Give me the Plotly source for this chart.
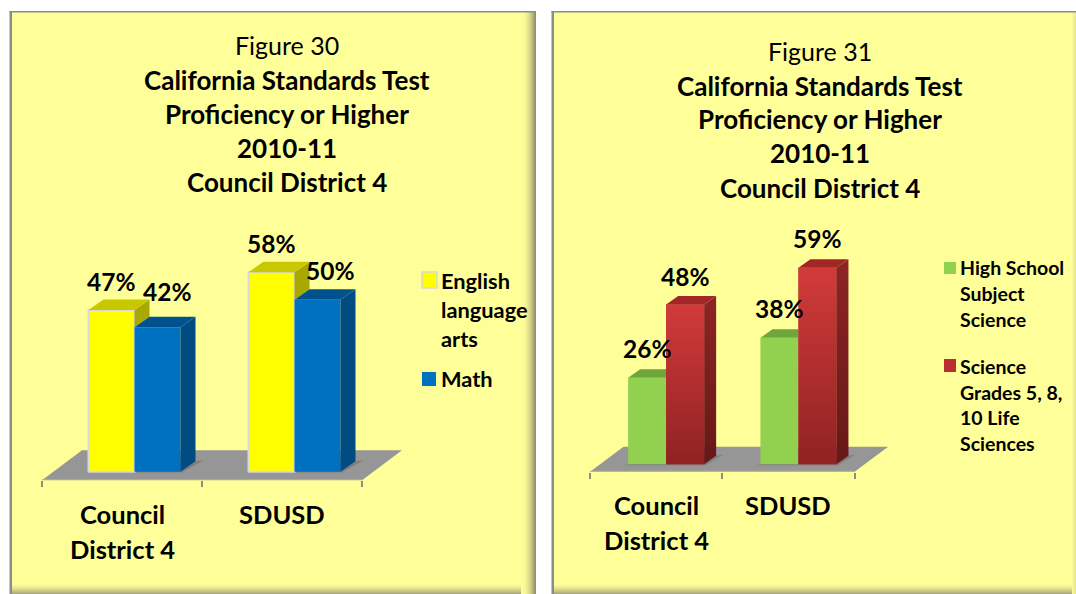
import plotly.graph_objects as go

W, H = 1076, 594

# ---------- data ----------
categories = [["Council", "District 4"], ["SDUSD"]]

ela = [47, 58]
math_scores = [42, 50]
hs_science = [26, 38]
life_science = [48, 59]

titles_left = ["Figure 30", "California Standards Test", "Proficiency or Higher", "2010-11", "Council District 4"]
titles_right = ["Figure 31", "California Standards Test", "Proficiency or Higher", "2010-11", "Council District 4"]
legend_left = [["English", "language", "arts"], ["Math"]]
legend_right = [["High School", "Subject", "Science"], ["Science", "Grades 5, 8,", "10 Life", "Sciences"]]

FONT = "Lato"
fig = go.Figure()
shapes, annotations = [], []


def px(x):
    return x / W


def py(y):
    return 1 - y / H


def text(x, y, s, size, bold=True, anchor="center"):
    annotations.append(dict(xref="paper", yref="paper", x=px(x), y=py(y), text=f"<b>{s}</b>" if bold else s,
                            showarrow=False, xanchor=anchor, yanchor="middle",
                            font=dict(family=FONT, size=size, color="#000000")))


def rect(x0, y0, x1, y1, fill, line=None, lw=0):
    shapes.append(dict(type="rect", xref="paper", yref="paper", x0=px(x0), x1=px(x1), y0=py(y0), y1=py(y1),
                       fillcolor=fill, line=dict(color=line or fill, width=lw), layer="below"))


def mix(t, dark):
    base = (255, 255, 153)
    return "rgb(%d,%d,%d)" % tuple(round(b + (d - b) * t) for b, d in zip(base, dark))


def panel(x0, x1, shadow, y0=12, y1=594):
    rect(x0, y0, x1, y1, "#FFFF99")
    n = 10
    # bottom soft shadow
    for i in range(n):
        t = (i + 1) / n
        rect(x0, 584 + i, x1, 585 + i, mix(t ** 1.6 * 0.75, (140, 140, 110)))
    # right soft shadow
    if shadow:
        m = 15
        for i in range(m):
            t = (i + 1) / m
            rect(x1 - m + i, y0, x1 - m + i + 1, y1, mix(t ** 2.2, (140, 140, 105)))
        rect(x1 - 1, y0, x1, y1, "#8C8C8C")
    else:
        for i in range(4):
            rect(x1 - 4 + i, y0, x1 - 3 + i, y1, mix((i + 1) * 0.05, (140, 140, 105)))
    rect(x0 - 1, y0 - 1, x0 + 1.5, y1, "#8C8C8C")
    rect(x0 - 1, y0 - 1, x1, y0 + 0.5, "#8C8C8C")


panel(10.5, 536, True)
panel(552.5, 1076, False)


def poly(xa, ya, pts, fill):
    d = "M" + "L".join(f"{x},{y}" for x, y in pts) + "Z"
    shapes.append(dict(type="path", path=d, xref=xa, yref=ya, fillcolor=fill, line=dict(width=0), layer="below"))


def face(xa, ya, pts, fill=None, grad=None):
    xs = [p[0] for p in pts] + [pts[0][0]]
    ys = [p[1] for p in pts] + [pts[0][1]]
    kw = dict(fillcolor=fill) if fill else dict(fillgradient=dict(type="vertical", colorscale=grad))
    fig.add_trace(go.Scatter(x=xs, y=ys, xaxis=xa, yaxis=ya, mode="lines", fill="toself", line=dict(width=0),
                             showlegend=False, hoverinfo="skip", **kw))


def chart(n, series, geom):
    xa, ya = ("x", "y") if n == 1 else (f"x{n}", f"y{n}")
    xkey, ykey = ("xaxis", "yaxis") if n == 1 else (f"xaxis{n}", f"yaxis{n}")
    g = geom
    unit = (g["t2"] - g["t0"]) / 2
    per = g["per"]
    off = g["off_x"] / unit
    xr_top = (g["xend"] - g["t0"]) / unit - 0.5
    y_bottom = -g["off_y"] / per
    y_top = (g["base"] - g["ytop"]) / per
    fig.update_layout({
        xkey: dict(domain=[px(g["t0"]), px(g["xend"])], range=[-0.5, xr_top], anchor=ya, showgrid=False, zeroline=False,
                   showticklabels=False, ticks="outside", tickmode="array", tickvals=[-0.5, 0.5, 1.5], ticklen=6,
                   tickwidth=1.5, tickcolor="#8F8F80", showline=False, fixedrange=True),
        ykey: dict(domain=[py(g["base"] + g["off_y"]), py(g["ytop"])], range=[y_bottom, y_top], anchor=xa,
                   visible=False, showgrid=False, zeroline=False, fixedrange=True),
    })
    # floor
    fdx, fdy = g["floor_dx"] / unit, g["floor_dy"] / per
    poly(xa, ya, [(-0.5, y_bottom), (1.5, y_bottom), (1.5 + fdx, y_bottom + fdy), (-0.5 + fdx, y_bottom + fdy)], "#969696")
    shapes.append(dict(type="line", xref=xa, yref=ya, x0=-0.5, x1=1.5, y0=y_bottom, y1=y_bottom,
                       line=dict(color="#B4B48A", width=2), layer="above"))
    w = g["bar_w"] / unit
    dx, dy = g["dx"] / unit, g["dy"] / per
    # contact shadows on the floor
    for i in range(2):
        c = i + off
        poly(xa, ya, [(c - w - 0.03, -0.25), (c + w + 0.01, -0.25), (c + w + dx + 0.05, dy + 0.3),
                      (c + w + dx, dy), (c - w, 0)], "#7F7F7F")
    # front faces as real bars
    for s in series:
        fig.add_trace(go.Bar(x=[i + off for i in range(2)], y=s["values"], name=s["name"], xaxis=xa, yaxis=ya,
                             marker=dict(color=s["front"], line=dict(color=s.get("edge", s["front"]), width=s.get("edge_w", 0))),
                             showlegend=False, hoverinfo="skip"))
    # gradient overlays and depth faces, back to front
    for k, s in enumerate(series):
        for i, v in enumerate(s["values"]):
            c = i + off
            x0, x1 = (c - w, c) if k == 0 else (c, c + w)
            if s.get("grad"):
                face(xa, ya, [(x0, 0), (x1, 0), (x1, v), (x0, v)], grad=s["grad"])
            if k == 0:
                nv = series[1]["values"][i]
                if nv < v:
                    face(xa, ya, [(x1, v), (x1 + dx, v + dy), (x1 + dx, nv + dy), (x1, nv)], fill=s["side"])
                    face(xa, ya, [(x0, v), (x0 + dx, v + dy), (x1 + dx, v + dy), (x1, v)], fill=s["top"])
                else:
                    face(xa, ya, [(x0, v), (x0 + dx, v + dy), (x1, v + dy), (x1, v)], fill=s["top"])
            else:
                if s.get("side_grad"):
                    face(xa, ya, [(x1, 0), (x1 + dx, dy), (x1 + dx, v + dy), (x1, v)], grad=s["side_grad"])
                else:
                    face(xa, ya, [(x1, 0), (x1 + dx, dy), (x1 + dx, v + dy), (x1, v)], fill=s["side"])
                face(xa, ya, [(x0, v), (x0 + dx, v + dy), (x1 + dx, v + dy), (x1, v)], fill=s["top"])
    # value labels
    for k, s in enumerate(series):
        for i, v in enumerate(s["values"]):
            c = i + off + (-w / 2 if k == 0 else w / 2)
            nx, ny = s["nudge"][i]
            annotations.append(dict(xref=xa, yref=ya, x=c, y=v, text=f"<b>{v}%</b>", showarrow=False,
                                    xanchor="center", yanchor="middle", xshift=nx, yshift=ny,
                                    font=dict(family=FONT, size=g["label_size"], color="#000000")))
    # category labels
    for i, lines in enumerate(categories):
        for j, t in enumerate(lines):
            text(g["t0"] + unit * (i + 0.5), g["cat_y"] + j * 35, t, g["cat_size"])


chart(1, [
    dict(name="English language arts", values=ela, front="#FFFF00", edge="#D9D9D9", edge_w=2, side="#A8A800", top="#C8C800",
         nudge=[(0, 29), (0, 29)]),
    dict(name="Math", values=math_scores, front="#0070C0", side="#004C82", top="#00528F",
         nudge=[(10, 36), (13, 29)]),
], dict(t0=42, t2=362, xend=405, base=471.7, ytop=200, per=3.44, off_x=12.5, off_y=8.6, floor_dx=40, floor_dy=30,
        bar_w=46, dx=15, dy=10.5, label_size=24.5, cat_y=514, cat_size=25.5))

chart(2, [
    dict(name="High School Subject Science", values=hs_science, front="#92D050", side="#6FA53A", top="#6FA53A",
         nudge=[(0, 29), (0, 29)]),
    dict(name="Science Grades 5, 8, 10 Life Sciences", values=life_science, front="#B02C2C", side="#7A1E1E", top="#A32626",
         grad=[[0, "#8F2222"], [1, "#D23A3A"]], side_grad=[[0, "#661818"], [1, "#8E2424"]],
         nudge=[(0, 28), (0, 29)]),
], dict(t0=590, t2=854.6, xend=895, base=464.3, ytop=200, per=3.33, off_x=10, off_y=7.4, floor_dx=33.5, floor_dy=25,
        bar_w=38, dx=12, dy=8.5, label_size=24.5, cat_y=505, cat_size=25.5))

# titles
for j, (t, y) in enumerate(zip(titles_left, [45, 80, 114, 148, 182])):
    text(287, y, t, 26 if j > 0 else 25, bold=j > 0)
for j, (t, y) in enumerate(zip(titles_right, [51, 86, 119, 153, 188])):
    text(820, y, t, 26 if j > 0 else 25, bold=j > 0)

# manual legends (swatch beside the first line of each wrapped entry)
rect(422, 272, 437, 288, "#FFFF00", "#D9D9D9", 1.5)
rect(422, 372, 436, 386, "#0070C0")
for t, y in zip(legend_left[0] + legend_left[1], [280, 309, 338, 378]):
    text(438.5, y, t, 21.8, anchor="left")
rect(944, 262, 956, 274, "#92D050")
rect(944, 359, 956, 372, "#B82E2E")
for t, y in zip(legend_right[0] + legend_right[1], [267, 293, 319, 366, 392, 417, 443]):
    text(957.5, y, t, 19.5, anchor="left")

fig.update_layout(width=W, height=H, margin=dict(l=0, r=0, t=0, b=0, pad=0), paper_bgcolor="#FFFFFF",
                  plot_bgcolor="rgba(0,0,0,0)", barmode="group", bargap=0.425, bargroupgap=0,
                  showlegend=False, shapes=shapes, annotations=annotations)

fig.write_html("out.html", config=dict(displayModeBar=False),
               post_script="document.body.style.margin='0';document.body.style.overflow='hidden';")
